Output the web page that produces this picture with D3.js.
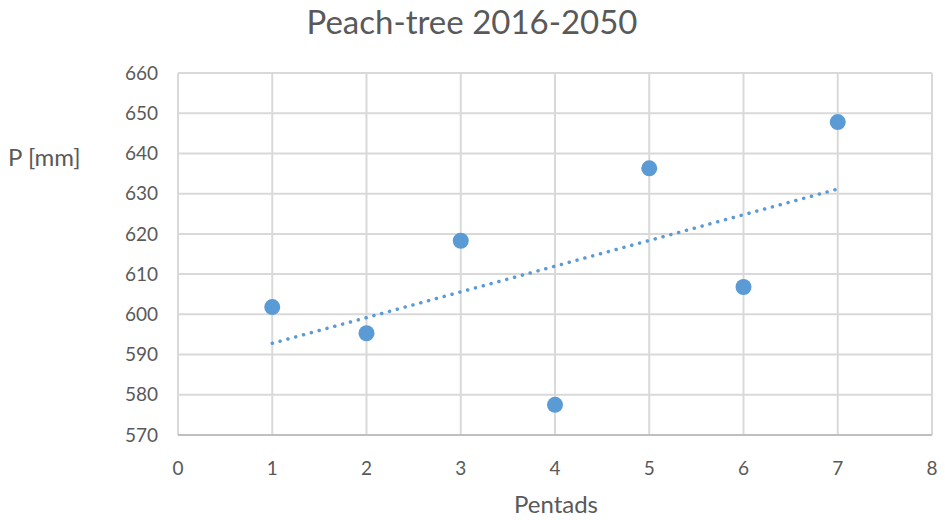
<!DOCTYPE html>
<html>
<head>
<meta charset="utf-8">
<script src="https://cdn.jsdelivr.net/npm/d3@7"></script>
<style>
  body { margin: 0; background: #fff; }
  svg text { font-family: Lato, "Open Sans", sans-serif; fill: #595959; }
</style>
</head>
<body>
<div id="chart"></div>
<script>
// pentad number and precipitation sum
var pentads = [1, 2, 3, 4, 5, 6, 7];
var precip = [601.8, 595.3, 618.3, 577.5, 636.3, 606.8, 647.8];
var xTicks = [0, 1, 2, 3, 4, 5, 6, 7, 8];
var yTicks = [570, 580, 590, 600, 610, 620, 630, 640, 650, 660];

var W = 945, H = 520;
var m = { top: 73, right: 13, bottom: 85, left: 178 };

var svg = d3.select('#chart').append('svg').attr('width', W).attr('height', H);

var x = d3.scaleLinear().domain([0, 8]).range([m.left, W - m.right]);
var y = d3.scaleLinear().domain([570, 660]).range([H - m.bottom, m.top]);

// gridlines
svg.append('g').selectAll('line.v').data(xTicks).enter().append('line')
  .attr('x1', function (d) { return x(d); }).attr('x2', function (d) { return x(d); })
  .attr('y1', y(660)).attr('y2', y(570))
  .attr('stroke', '#d9d9d9').attr('stroke-width', 2);

svg.append('g').selectAll('line.h').data(yTicks).enter().append('line')
  .attr('x1', x(0)).attr('x2', x(8))
  .attr('y1', function (d) { return y(d); }).attr('y2', function (d) { return y(d); })
  .attr('stroke', function (d) { return d === 570 ? '#bfbfbf' : '#d9d9d9'; })
  .attr('stroke-width', 2);

// tick labels
svg.append('g').selectAll('text').data(yTicks).enter().append('text')
  .attr('x', x(0) - 20).attr('y', function (d) { return y(d); })
  .attr('dy', '0.35em').attr('text-anchor', 'end')
  .attr('font-size', 19).text(function (d) { return d; });

svg.append('g').selectAll('text').data(xTicks).enter().append('text')
  .attr('x', function (d) { return x(d); }).attr('y', y(570) + 40)
  .attr('text-anchor', 'middle')
  .attr('font-size', 19).text(function (d) { return d; });

// linear trend line
var n = pentads.length;
var mx = d3.mean(pentads), my = d3.mean(precip);
var sxy = 0, sxx = 0;
for (var i = 0; i < n; i++) {
  sxy += (pentads[i] - mx) * (precip[i] - my);
  sxx += (pentads[i] - mx) * (pentads[i] - mx);
}
var slope = sxy / sxx, icpt = my - slope * mx;
var x0 = d3.min(pentads), x1 = d3.max(pentads);

svg.append('line')
  .attr('x1', x(x0)).attr('y1', y(icpt + slope * x0))
  .attr('x2', x(x1)).attr('y2', y(icpt + slope * x1))
  .attr('stroke', '#5b9bd5').attr('stroke-width', 3.5)
  .attr('stroke-linecap', 'round').attr('stroke-dasharray', '0.1 8');

// points
svg.append('g').selectAll('circle').data(pentads).enter().append('circle')
  .attr('cx', function (d) { return x(d); })
  .attr('cy', function (d, i) { return y(precip[i]); })
  .attr('r', 8).attr('fill', '#5b9bd5');

// titles
svg.append('text').attr('x', 472).attr('y', 34).attr('text-anchor', 'middle')
  .attr('font-size', 33).text('Peach-tree 2016-2050');
svg.append('text').attr('x', 556).attr('y', 513).attr('text-anchor', 'middle')
  .attr('font-size', 24).text('Pentads');
svg.append('text').attr('x', 8).attr('y', 166)
  .attr('font-size', 24).text('P [mm]');
</script>
</body>
</html>
